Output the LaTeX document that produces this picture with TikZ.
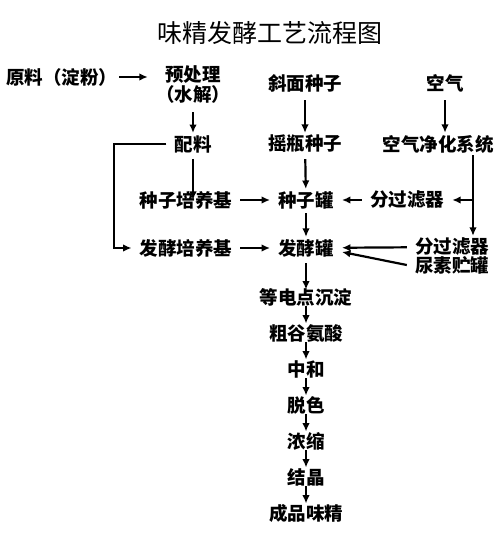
\documentclass[tikz,border=0pt]{standalone}
\usepackage{fontspec}
\setmainfont{Noto Sans CJK SC}
\usetikzlibrary{arrows.meta}
\tikzstyle{txtbox} = [rectangle, inner xsep=8pt, inner ysep=2pt,
font=\bfseries\fontsize{18.5}{20}\selectfont,
text centered]
\tikzstyle{chainbox} = [txtbox, inner ysep=0pt, text height=14.5pt, text depth=2pt]
\tikzstyle{arr} = [-{Latex[length=8.5pt,width=7.5pt]}, line width=2.2pt]

\begin{document}
\begin{tikzpicture}[x=1pt, y=-1pt, node distance=36pt]
		\useasboundingbox (0,0) rectangle (500,534);
		\node (title) at (270,33) {\fontsize{25}{28}\selectfont 味精发酵工艺流程图};
		\node (raw) [txtbox, anchor=west, inner xsep=2pt] at (4,77) {原料（淀粉）};
		\node (pretreat) [txtbox, align=center] at (193,85) {预处理\\（水解）};
		\node (slant) [txtbox] at (305,83) {斜面种子};
		\node (air) [txtbox] at (445,83) {空气};
		\node (batch) [txtbox] at (193,144) {配料};
		\node (shake) [txtbox] at (305,144) {摇瓶种子};
		\node (purify) [txtbox] at (438,144) {空气净化系统};
		\node (seedmed) [txtbox] at (186,200) {种子培养基};
		\node (seedtank) [txtbox] at (306,200) {种子罐};
		\node (filter1) [txtbox] at (407,200) {分过滤器};
		\node (fermmed) [txtbox] at (186,248) {发酵培养基};
		\node (fermtank) [txtbox] at (306,248) {发酵罐};
		\node (filter2) [txtbox] at (452,247) {分过滤器};
		\node (urea) [txtbox] at (452,265) {尿素贮罐};
		\node (iep) [chainbox, below of=fermtank, yshift=-14pt] {等电点沉淀};
		\node (crude) [chainbox, below of=iep] {粗谷氨酸};
		\node (neutral) [chainbox, below of=crude] {中和};
		\node (decolor) [chainbox, below of=neutral] {脱色};
		\node (concen) [chainbox, below of=decolor] {浓缩};
		\node (cryst) [chainbox, below of=concen] {结晶};
		\node (product) [chainbox, below of=cryst] {成品味精};
		\coordinate (drop) at (473,200);

		\draw [arr](raw.east) -- (raw.east -| pretreat.west);
		\draw [arr, shorten <=6pt](pretreat) -- (batch);
		\draw [arr, shorten <=6pt](slant) -- (shake);
		\draw [arr, shorten <=6pt](air) -- (air |- purify.north);
		\draw [arr](batch.west) -- ++(-52,0) |- (fermmed.west);
		\draw [arr, shorten <=4pt](batch) -- (seedmed -| batch);
		\draw [arr, shorten <=4pt](shake) -- (seedtank);
		\draw [arr](seedmed) -- (seedtank);
		\draw [arr](filter1) -- (seedtank);
		\draw [line width=2.2pt](purify.south -| drop) -- (drop);
		\draw [arr](drop) -- (filter1.east);
		\draw [arr](drop) -- (filter2.north -| drop);
		\draw [arr, shorten <=2pt](seedtank) -- (fermtank);
		\draw [arr](fermmed) -- (fermtank);
		\draw [arr](filter2) -- (fermtank);
		\draw [arr](urea.west) -- ([yshift=-4pt]fermtank.east);
		\draw [arr, shorten <=4pt](fermtank) -- (iep);
		\draw [arr, shorten >=2pt](iep) -- (crude);
		\draw [arr, shorten >=2pt](crude) -- (neutral);
		\draw [arr, shorten >=2pt](neutral) -- (decolor);
		\draw [arr, shorten >=2pt](decolor) -- (concen);
		\draw [arr, shorten >=2pt](concen) -- (cryst);
		\draw [arr, shorten >=2pt](cryst) -- (product);
	\end{tikzpicture}
\end{document}
